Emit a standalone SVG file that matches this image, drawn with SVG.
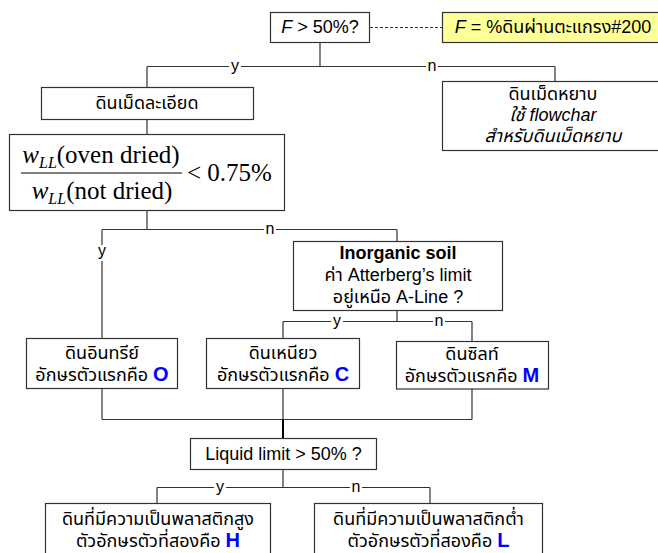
<svg xmlns="http://www.w3.org/2000/svg" width="658" height="553" viewBox="0 0 658 553">
  <style>
    .box { fill: #ffffff; stroke: #333333; stroke-width: 1.2; }
    .note { fill: #ffff99; stroke: #333333; stroke-width: 1.2; }
    .wire { fill: none; stroke: #333333; stroke-width: 1.2; }
    .dash { fill: none; stroke: #333333; stroke-width: 1; stroke-dasharray: 3 2; }
    .gap { fill: #ffffff; stroke: none; }
    .t { font-family: "Liberation Sans", "Noto Sans Thai", "Noto Sans", sans-serif; font-size: 18px; fill: #000000; text-anchor: middle; }
    .lbl { font-family: "Liberation Sans", Arial, sans-serif; font-size: 16px; fill: #000000; text-anchor: middle; }
    .key { font-family: "Liberation Sans", Arial, sans-serif; font-weight: bold; font-size: 20px; fill: #0000ff; }
    .math { font-family: "Liberation Serif", "Times New Roman", serif; font-size: 25px; fill: #000000; }
  </style>

  <!-- connectors -->
  <g id="connectors">
    <line class="dash" x1="370" y1="27.5" x2="442" y2="27.5"/>
    <path class="wire" d="M320 42.5 V66.5 M147 66.5 H555 M147 66.5 V87.5 M555 66.5 V81.5"/>
    <path class="wire" d="M147 119.5 V134.5 M147 210.5 V229.5 M102 229.5 H397 M102 229.5 V338.5 M397 229.5 V241.5"/>
    <path class="wire" d="M397 310.5 V321.5 M283 321.5 H472 M283 321.5 V338.5 M472 321.5 V341.5"/>
    <path class="wire" d="M102 388.5 V419.5 M283 388.5 V419.5 M472 389 V419.5 M102 419.5 H472"/>
    <path class="wire" d="M283 419.5 V438.5" style="stroke:#000;stroke-width:2"/>
    <path class="wire" d="M283 469.5 V487.5 M157 487.5 H430 M157 487.5 V503.5 M430 487.5 V503.5"/>

    <!-- branch labels -->
    <rect class="gap" x="229" y="60" width="12" height="13"/>
    <text class="lbl" x="235" y="71">y</text>
    <rect class="gap" x="426" y="60" width="12" height="13"/>
    <text class="lbl" x="432" y="71">n</text>
    <rect class="gap" x="264" y="223" width="12" height="13"/>
    <text class="lbl" x="270" y="234">n</text>
    <rect class="gap" x="96" y="245" width="12" height="16"/>
    <text class="lbl" x="102" y="256">y</text>
    <rect class="gap" x="331" y="315" width="12" height="13"/>
    <text class="lbl" x="337" y="326">y</text>
    <rect class="gap" x="433" y="315" width="12" height="13"/>
    <text class="lbl" x="439" y="326">n</text>
    <rect class="gap" x="214" y="481" width="12" height="13"/>
    <text class="lbl" x="220" y="492">y</text>
    <rect class="gap" x="350" y="481" width="12" height="13"/>
    <text class="lbl" x="356" y="492">n</text>
  </g>

  <!-- decision: fines content -->
  <g id="n-fines-check">
    <rect class="box" x="270.5" y="12.5" width="99" height="30"/>
    <text class="t" x="320" y="33"><tspan font-style="italic">F</tspan> &gt; 50%?</text>
  </g>

  <g id="n-definition">
    <rect class="note" x="442.5" y="12.5" width="230" height="30"/>
    <text class="t" x="553" y="33"><tspan font-style="italic">F</tspan> = %ดินผ่านตะแกรง#200</text>
  </g>

  <g id="n-fine-grained">
    <rect class="box" x="41.5" y="87.5" width="212" height="32"/>
    <text class="t" x="147" y="109">ดินเม็ดละเอียด</text>
  </g>

  <g id="n-coarse-grained">
    <rect class="box" x="442.5" y="81.5" width="230" height="69"/>
    <text class="t" x="553" y="100">ดินเม็ดหยาบ</text>
    <text class="t" x="553" y="121" font-style="italic">ใช้ flowchar</text>
    <text class="t" x="553" y="142" font-style="italic">สำหรับดินเม็ดหยาบ</text>
  </g>

  <g id="n-oven-ratio">
    <rect class="box" x="9.5" y="134.5" width="275" height="76"/>
    <text class="math" x="101" y="163" text-anchor="middle"><tspan font-style="italic">w</tspan><tspan font-style="italic" font-size="16" dy="5">LL</tspan><tspan dy="-5">(oven dried)</tspan></text>
    <line x1="21" y1="173" x2="182" y2="173" stroke="#000" stroke-width="1.2"/>
    <text class="math" x="102" y="199" text-anchor="middle"><tspan font-style="italic">w</tspan><tspan font-style="italic" font-size="16" dy="5">LL</tspan><tspan dy="-5">(not dried)</tspan></text>
    <text class="math" x="187" y="181" font-size="24">&lt; 0.75%</text>
  </g>

  <g id="n-inorganic">
    <rect class="box" x="293.5" y="241.5" width="209" height="69"/>
    <text class="t" x="398" y="259" font-weight="bold" font-size="17">Inorganic soil</text>
    <text class="t" x="398" y="281">ค่า Atterberg’s limit</text>
    <text class="t" x="398" y="303">อยู่เหนือ A-Line ?</text>
  </g>

  <g id="n-organic">
    <rect class="box" x="26.5" y="338.5" width="151" height="50"/>
    <text class="t" x="102" y="359">ดินอินทรีย์</text>
    <text class="t" x="102" y="381">อักษรตัวแรกคือ <tspan class="key">O</tspan></text>
  </g>

  <g id="n-clay">
    <rect class="box" x="206.5" y="338.5" width="153" height="50"/>
    <text class="t" x="283" y="359">ดินเหนียว</text>
    <text class="t" x="283" y="381">อักษรตัวแรกคือ <tspan class="key">C</tspan></text>
  </g>

  <g id="n-silt">
    <rect class="box" x="396.5" y="341.5" width="152" height="47.5"/>
    <text class="t" x="472" y="360">ดินซิลท์</text>
    <text class="t" x="472" y="382">อักษรตัวแรกคือ <tspan class="key">M</tspan></text>
  </g>

  <g id="n-liquid-limit">
    <rect class="box" x="190.5" y="438.5" width="186" height="31"/>
    <text class="t" x="283.5" y="460" font-size="17">Liquid limit &gt; 50% ?</text>
  </g>

  <g id="n-high-plasticity">
    <rect class="box" x="45.5" y="503.5" width="225" height="60"/>
    <text class="t" x="158" y="525">ดินที่มีความเป็นพลาสติกสูง</text>
    <text class="t" x="158" y="547">ตัวอักษรตัวที่สองคือ <tspan class="key">H</tspan></text>
  </g>

  <g id="n-low-plasticity">
    <rect class="box" x="314.5" y="503.5" width="228" height="60"/>
    <text class="t" x="428.5" y="525">ดินที่มีความเป็นพลาสติกต่ำ</text>
    <text class="t" x="428.5" y="547">ตัวอักษรตัวที่สองคือ <tspan class="key">L</tspan></text>
  </g>
</svg>
